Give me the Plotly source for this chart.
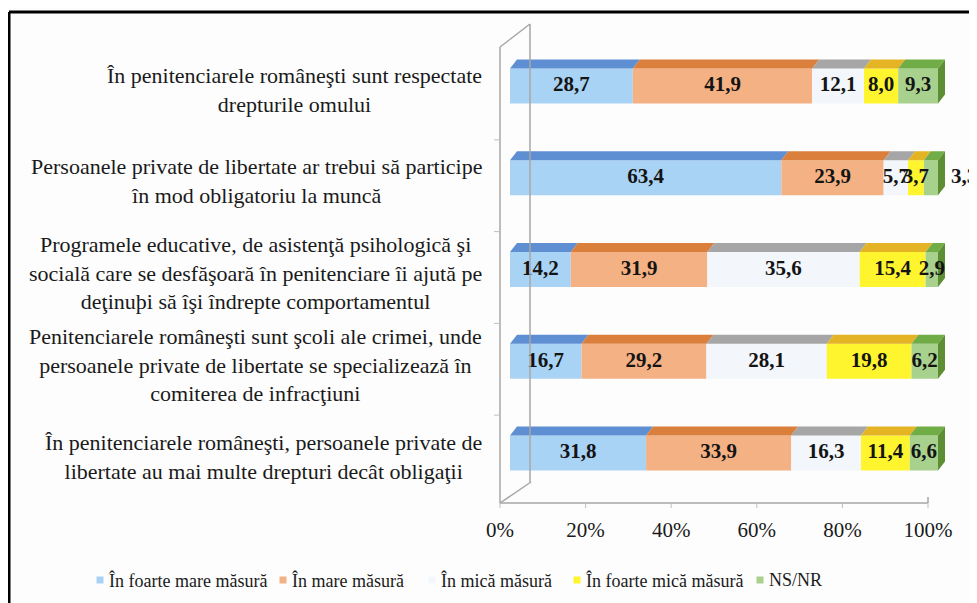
import plotly.graph_objects as go

# categories (top to bottom)
statements = [
    "În penitenciarele româneşti sunt respectate<br>drepturile omului",
    "Persoanele private de libertate ar trebui să participe<br>în mod obligatoriu la muncă",
    "Programele educative, de asistenţă psihologică şi<br>socială care se desfăşoară în penitenciare îi ajută pe<br>deţinuþi să îşi îndrepte comportamentul",
    "Penitenciarele româneşti sunt şcoli ale crimei, unde<br>persoanele private de libertate se specializează în<br>comiterea de infracţiuni",
    "În penitenciarele româneşti, persoanele private de<br>libertate au mai multe drepturi decât obligaţii",
]

series_names = ["În foarte mare măsură", "În mare măsură", "În mică măsură",
                "În foarte mică măsură", "NS/NR"]

foarte_mare = [28.7, 63.4, 14.2, 16.7, 31.8]
mare = [41.9, 23.9, 31.9, 29.2, 33.9]
mica = [12.1, 5.7, 35.6, 28.1, 16.3]
foarte_mica = [8.0, 3.7, 15.4, 19.8, 11.4]
ns_nr = [9.3, 3.3, 2.9, 6.2, 6.6]

tick_vals = [0, 20, 40, 60, 80, 100]
tick_text = ["0%", "20%", "40%", "60%", "80%", "100%"]

series = [foarte_mare, mare, mica, foarte_mica, ns_nr]
front_colors = ["#A9D3F5", "#F4B183", "#F3F6FA", "#FFF52E", "#A9D18E"]
top_colors = ["#5F8FD3", "#DB7F3C", "#A6A6A6", "#E4B425", "#70AD47"]
side_color = "#5E8E33"

SERIF = "Liberation Serif, Times New Roman, serif"

# geometry in page pixels (the page body adds an 8px margin around the figure)
OFF = 8
W, H = 977, 603
L, R, T, B = 470, 975, 15, 515
X0, PXU = 500, 4.28          # pixel of 0 %, pixels per percent
ROW0, ROWPX = 86, 91.75      # pixel of first row centre, pixels per row


def px_x(p):
    return (p - X0) / PXU


def px_y(p):
    return (p - ROW0) / ROWPX


def paper_x(p):
    return (p - L) / (R - L)


def paper_y(p):
    return (B - p) / (B - T)


shift = 10 / PXU            # perspective offset of the bars from the floor line
dx, dy = 7 / PXU, 9 / ROWPX  # depth of the bars
bw = 35 / ROWPX              # bar thickness
rows = list(range(len(statements)))
outside = {(1, 4)}

fig = go.Figure()

# front faces
cum = [0.0] * len(rows)
bases = []
for k, vals in enumerate(series):
    base = [shift + c for c in cum]
    bases.append(base)
    fig.add_trace(go.Bar(
        y=rows, x=vals, base=base, orientation="h", width=bw,
        name=series_names[k], marker=dict(color=front_colors[k], line_width=0),
        hoverinfo="skip", showlegend=False,
    ))
    cum = [c + v for c, v in zip(cum, vals)]

# top faces
for k, vals in enumerate(series):
    xs, ys = [], []
    for i in rows:
        x0 = bases[k][i]
        x1 = x0 + vals[i]
        yt = i - bw / 2
        xs += [x0, x1, x1 + dx, x0 + dx, x0, None]
        ys += [yt, yt, yt - dy, yt - dy, yt, None]
    fig.add_trace(go.Scatter(x=xs, y=ys, mode="lines", fill="toself",
                             fillcolor=top_colors[k], line=dict(width=0),
                             showlegend=False, hoverinfo="skip"))

# right side faces
xs, ys = [], []
for i in rows:
    xe = shift + cum[i]
    yt, yb = i - bw / 2, i + bw / 2
    xs += [xe, xe + dx, xe + dx, xe, xe, None]
    ys += [yt, yt - dy, yb - dy, yb, yt, None]
fig.add_trace(go.Scatter(x=xs, y=ys, mode="lines", fill="toself",
                         fillcolor=side_color, line=dict(width=0),
                         showlegend=False, hoverinfo="skip"))

# value labels
lx, ly, lt = [], [], []
for k, vals in enumerate(series):
    for i in rows:
        if (i, k) in outside:
            lx.append(bases[k][i] + vals[i] + dx + 19 / PXU)
        else:
            lx.append(bases[k][i] + vals[i] / 2)
        ly.append(i)
        lt.append(f"{vals[i]:.1f}".replace(".", ","))
fig.add_trace(go.Scatter(x=lx, y=ly, text=lt, mode="text", cliponaxis=False,
                         textfont=dict(family=SERIF, size=21,
                                       color="#141414", weight="bold"),
                         showlegend=False, hoverinfo="skip"))

# walls and floor
wall = dict(color="#A6A6A6", width=1.5)
shapes = [
    dict(type="line", x0=px_x(530), x1=px_x(530), y0=px_y(24), y1=px_y(482), line=wall),
    dict(type="line", x0=px_x(500), x1=px_x(500), y0=px_y(47), y1=px_y(503), line=wall),
    dict(type="line", x0=px_x(500), x1=px_x(530), y0=px_y(47), y1=px_y(24), line=wall),
    dict(type="line", x0=px_x(500), x1=px_x(531), y0=px_y(503), y1=px_y(482), line=wall),
    dict(type="line", x0=0, x1=100, y0=px_y(503), y1=px_y(503), line=wall),
    dict(type="line", x0=100, x1=100, y0=px_y(503), y1=px_y(497), line=wall),
]
for t in tick_vals:
    shapes.append(dict(type="line", x0=t, x1=t, y0=px_y(503), y1=px_y(508),
                       line=dict(color="#BFBFBF", width=1)))
for i in rows[:-1]:
    yy = px_y(ROW0 + (i + 0.5) * ROWPX + 8)
    shapes.append(dict(type="line", x0=px_x(494), x1=px_x(500), y0=yy, y1=yy,
                       line=dict(color="#BFBFBF", width=1)))
# picture frame
frame = dict(color="black", width=3)
shapes += [
    dict(type="line", xref="paper", yref="paper", x0=paper_x(9), x1=paper_x(990),
         y0=paper_y(12), y1=paper_y(12), line=frame),
    dict(type="line", xref="paper", yref="paper", x0=paper_x(9), x1=paper_x(9),
         y0=paper_y(12), y1=paper_y(615), line=frame),
]

annotations = []
for i in rows:
    annotations.append(dict(
        x=px_x(484), y=i + 0.04, xref="x", yref="y", text=statements[i],
        xanchor="right", yanchor="middle", align="center", showarrow=False,
        font=dict(family=SERIF, size=22, color="#1A1A1A"),
    ))

# legend drawn by hand, one row under the axis
legend_px = [100, 283, 432, 577, 760]
legend_y = 580
for k, name in enumerate(series_names):
    xp = legend_px[k]
    shapes.append(dict(type="rect", xref="paper", yref="paper",
                       x0=paper_x(xp - 3.5), x1=paper_x(xp + 3.5),
                       y0=paper_y(legend_y - 3.5), y1=paper_y(legend_y + 3.5),
                       fillcolor=front_colors[k], line_width=0))
    annotations.append(dict(
        x=paper_x(xp + 7), y=paper_y(legend_y), xref="paper", yref="paper",
        text=name, xanchor="left", yanchor="middle", showarrow=False,
        font=dict(family=SERIF, size=18, color="#1A1A1A"),
    ))

fig.update_layout(
    width=W, height=H,
    margin=dict(l=L - OFF, r=W + OFF - R, t=T - OFF, b=H + OFF - B, autoexpand=False),
    paper_bgcolor="#FDFDFD", plot_bgcolor="rgba(0,0,0,0)",
    barmode="overlay", showlegend=False,
    shapes=shapes, annotations=annotations,
    xaxis=dict(range=[px_x(L), px_x(R)], tickvals=tick_vals, ticktext=tick_text,
               showgrid=False, zeroline=False, showline=False, automargin=False,
               tickfont=dict(family=SERIF, size=21, color="#1A1A1A")),
    yaxis=dict(range=[px_y(B), px_y(T)], showticklabels=False, showgrid=False,
               zeroline=False, showline=False, automargin=False),
    font=dict(family=SERIF),
)

fig.write_html("out.html")
